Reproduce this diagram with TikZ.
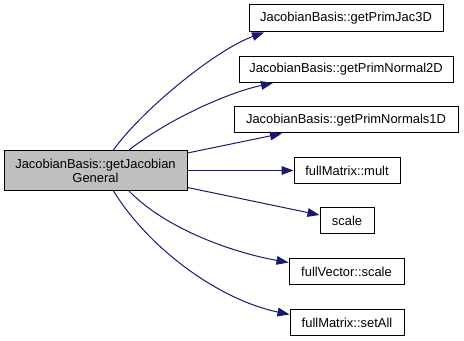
\documentclass[tikz,border=0pt]{standalone}
\usepackage{fontspec}
\setmainfont{Liberation Sans}
\usetikzlibrary{calc,arrows.meta}
\definecolor{edgeblue}{HTML}{191970}
\definecolor{maingray}{HTML}{BFBFBF}
\begin{document}
\begin{tikzpicture}[x=0.75pt,y=-0.75pt,
  fn/.style 2 args={draw=black, fill=white, line width=0.75pt, inner sep=0pt,
    minimum width=#1*0.75pt, minimum height=#2*0.75pt,
    font=\fontsize{9.7}{10.5}\selectfont, align=center},
  call/.style={draw=edgeblue, line width=0.75pt,
    -{Triangle[length=9pt,width=6.5pt]}}]
\useasboundingbox (0,0) rectangle (464,341);

% caller
\node[fn={183}{40}, fill=maingray] (main) at (95.5,170.5)
  {JacobianBasis::getJacobian\\General};

% callees
\node[fn={194}{27}] (jac3d)   at (346,18.5)  {JacobianBasis::getPrimJac3D};
\node[fn={214}{26}] (norm2d)  at (346,69.5)  {JacobianBasis::getPrimNormal2D};
\node[fn={224}{26}] (norms1d) at (346,120)   {JacobianBasis::getPrimNormals1D};
\node[fn={106}{26}] (mult)    at (347,170.5) {fullMatrix::mult};
\node[fn={54}{26}]  (scale)   at (347,221)   {scale};
\node[fn={115}{26}] (vscale)  at (346.5,271.5) {fullVector::scale};
\node[fn={114}{26}] (setall)  at (347,322.5) {fullMatrix::setAll};

% call edges
\draw[call] ($(main.north)+(18,0)$) .. controls (140,112) and (215,50) .. ($(jac3d.south)+(-82,0)$);
\draw[call] ($(main.north)+(33.5,0)$) .. controls (170,118) and (230,92) .. ($(norm2d.south)+(-73,0)$);
\draw[call] ($(main.north east)+(0,3)$) -- ($(norms1d.south)+(-64,0)$);
\draw[call] (main.east) -- (mult.west);
\draw[call] ($(main.east)+(0,17)$) -- ($(scale.west)+(0,-6)$);
\draw[call] ($(main.south)+(33.5,0)$) .. controls (165,228) and (230,252) .. ($(vscale.west)+(0,-9)$);
\draw[call] ($(main.south)+(18,0)$) .. controls (150,250) and (220,300) .. ($(setall.west)+(0,-8)$);
\end{tikzpicture}
\end{document}
